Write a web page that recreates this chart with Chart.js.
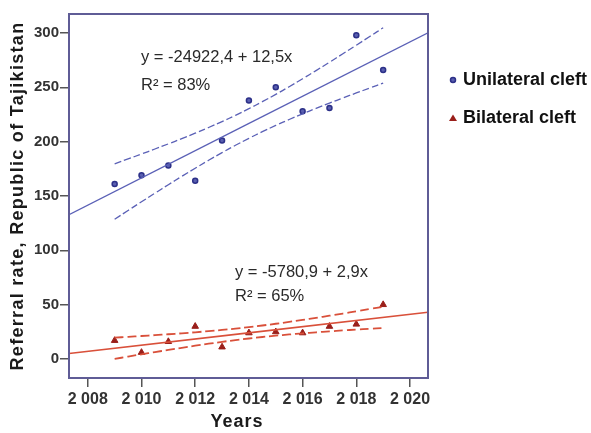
<!DOCTYPE html>
<html>
<head>
<meta charset="utf-8">
<script src="https://cdn.jsdelivr.net/npm/chart.js@4.4.1/dist/chart.umd.min.js"></script>
<style>
  html, body { margin: 0; padding: 0; background: #ffffff; }
  #wrap { width: 591px; height: 433px; }
</style>
</head>
<body>
<div id="wrap"><canvas id="cleftChart" width="591" height="433"></canvas></div>
<script>
// Data
const years = [2009, 2010, 2011, 2012, 2013, 2014, 2015, 2016, 2017, 2018, 2019];
const unilateral = [161, 169, 178, 164, 201, 238, 250, 228, 231, 298, 266];
const bilateral = [17, 6, 16, 30, 11, 24, 25, 24, 30, 32, 50];
const xTicks = [2008, 2010, 2012, 2014, 2016, 2018, 2020];
const yTicks = [0, 50, 100, 150, 200, 250, 300];
const uniLabel = 'Unilateral cleft';
const biLabel = 'Bilateral cleft';
const uniEquation = ['y = -24922,4 + 12,5x', 'R² = 83%'];
const biEquation = ['y = -5780,9 + 2,9x', 'R² = 65%'];
const xTitle = 'Years';
const yTitle = 'Referral rate, Republic of Tajikistan';

const X_MIN = 2007.3, X_MAX = 2020.67;
const Y_MIN = -17.5, Y_MAX = 317.5;
const T_975 = 2.262; // t quantile, 9 degrees of freedom

const BLUE = '#5a60b6';
const BLUE_DARK = '#2c3088';
const RED = '#d9503a';
const RED_DARK = '#9a1f1a';
const FRAME = '#5f5c96';
const FONT = '"Liberation Sans", Arial, sans-serif';

// least squares fit with 95% confidence band of the mean
function linearFit(xs, ys) {
    const n = xs.length;
    const xm = xs.reduce((a, b) => a + b, 0) / n;
    const ym = ys.reduce((a, b) => a + b, 0) / n;
    let sxx = 0, sxy = 0;
    xs.forEach((x, i) => { sxx += (x - xm) ** 2; sxy += (x - xm) * (ys[i] - ym); });
    const b = sxy / sxx;
    const a = ym - b * xm;
    let sse = 0;
    xs.forEach((x, i) => { sse += (ys[i] - (a + b * x)) ** 2; });
    const s = Math.sqrt(sse / (n - 2));
    return { a, b, s, n, xm, sxx };
}

function fitLine(f) {
    return [X_MIN, X_MAX].map(x => ({ x: x, y: f.a + f.b * x }));
}

function band(f, sign) {
    const pts = [];
    const x0 = years[0], x1 = years[years.length - 1];
    for (let x = x0; x <= x1 + 1e-9; x += 0.5) {
        const se = f.s * Math.sqrt(1 / f.n + (x - f.xm) ** 2 / f.sxx);
        pts.push({ x: x, y: f.a + f.b * x + sign * T_975 * se });
    }
    return pts;
}

const uniFit = linearFit(years, unilateral);
const biFit = linearFit(years, bilateral);

function lineSet(data, color, width, dash) {
    return {
        type: 'line', data: data, borderColor: color, borderWidth: width,
        borderDash: dash || [], pointRadius: 0, tension: 0.4, fill: false
    };
}

// frame, axis titles, equations and legend
const extras = {
    id: 'extras',
    afterDraw(chart) {
        const { ctx, chartArea: ca } = chart;
        ctx.save();
        ctx.strokeStyle = FRAME;
        ctx.lineWidth = 2;
        ctx.strokeRect(ca.left, ca.top, ca.right - ca.left, ca.bottom - ca.top);

        // axis titles
        ctx.fillStyle = '#1a1a1a';
        ctx.textAlign = 'center';
        ctx.textBaseline = 'middle';
        ctx.font = 'bold 18px ' + FONT;
        ctx.letterSpacing = '1px';
        ctx.fillText(xTitle, 237, 422);
        ctx.save();
        ctx.translate(18, 196);
        ctx.rotate(-Math.PI / 2);
        ctx.letterSpacing = '1.3px';
        ctx.fillText(yTitle, 0, 0);
        ctx.restore();
        ctx.letterSpacing = '0px';

        // regression equations
        ctx.textAlign = 'left';
        ctx.fillStyle = '#2a2a2a';
        ctx.font = '16.5px ' + FONT;
        ctx.fillText(uniEquation[0], 141, 57);
        ctx.fillText(uniEquation[1], 141, 85);
        ctx.fillText(biEquation[0], 235, 272);
        ctx.fillText(biEquation[1], 235, 296);

        // legend
        ctx.font = 'bold 18px ' + FONT;
        ctx.fillStyle = '#111111';
        ctx.fillText(uniLabel, 463, 80);
        ctx.fillText(biLabel, 463, 118);

        ctx.beginPath();
        ctx.arc(453, 80, 2.5, 0, Math.PI * 2);
        ctx.fillStyle = '#5a5fb0';
        ctx.fill();
        ctx.strokeStyle = BLUE_DARK;
        ctx.lineWidth = 1.5;
        ctx.stroke();

        ctx.beginPath();
        ctx.moveTo(453, 114.5);
        ctx.lineTo(457, 121);
        ctx.lineTo(449, 121);
        ctx.closePath();
        ctx.fillStyle = RED_DARK;
        ctx.fill();
        ctx.restore();
    }
};

new Chart(document.getElementById('cleftChart').getContext('2d'), {
    type: 'scatter',
    data: {
        datasets: [
            lineSet(band(uniFit, 1), BLUE, 1.3, [7, 3]),
            lineSet(band(uniFit, -1), BLUE, 1.3, [7, 3]),
            lineSet(fitLine(uniFit), BLUE, 1.3),
            lineSet(band(biFit, 1), RED, 1.8, [9, 4]),
            lineSet(band(biFit, -1), RED, 1.8, [9, 4]),
            lineSet(fitLine(biFit), RED, 1.6),
            {
                label: uniLabel,
                data: years.map((x, i) => ({ x: x, y: unilateral[i] })),
                pointStyle: 'circle', pointRadius: 2.5,
                backgroundColor: '#5a5fb0', borderColor: BLUE_DARK, borderWidth: 1.5
            },
            {
                label: biLabel,
                data: years.map((x, i) => ({ x: x, y: bilateral[i] })),
                pointStyle: 'triangle', pointRadius: 3.8,
                backgroundColor: RED_DARK, borderColor: RED_DARK, borderWidth: 1
            }
        ]
    },
    options: {
        responsive: false,
        animation: false,
        layout: { padding: { top: 14, right: 163, bottom: 0, left: 0 } },
        plugins: { legend: { display: false }, tooltip: { enabled: false } },
        scales: {
            x: {
                type: 'linear', min: X_MIN, max: X_MAX,
                afterBuildTicks: s => { s.ticks = xTicks.map(v => ({ value: v })); },
                afterFit: s => { s.height = 55; },
                border: { display: false },
                grid: { drawOnChartArea: false, drawTicks: true, tickLength: 9, color: '#555555', lineWidth: 1.5 },
                ticks: {
                    color: '#333333', padding: 3,
                    font: { family: FONT, size: 16, weight: 'bold' },
                    callback: v => String(v).slice(0, 1) + ' ' + String(v).slice(1)
                }
            },
            y: {
                min: Y_MIN, max: Y_MAX,
                afterBuildTicks: s => { s.ticks = yTicks.map(v => ({ value: v })); },
                afterFit: s => { s.width = 69; },
                border: { display: false },
                grid: { drawOnChartArea: false, drawTicks: true, tickLength: 9, color: '#555555', lineWidth: 1.5 },
                ticks: {
                    color: '#333333', padding: 1,
                    font: { family: FONT, size: 15, weight: 'bold' }
                }
            }
        }
    },
    plugins: [extras]
});
</script>
</body>
</html>
